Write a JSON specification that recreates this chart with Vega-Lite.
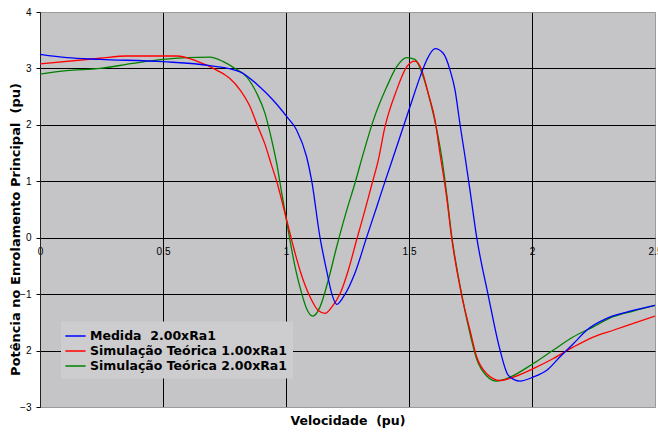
{
  "$schema": "https://vega.github.io/schema/vega-lite/v6.json",
  "autosize": {"type": "none"},
  "padding": {"left": 40, "top": 12, "right": 3, "bottom": 26},
  "width": 615,
  "height": 395,
  "background": "white",
  "config": {
    "view": {"fill": "#c5c5c7", "stroke": "#9a9a9a", "strokeWidth": 1}
  },
  "data": {
    "values": [
      {"s": "Simulação Teórica 2.00xRa1", "x": 0, "y": 2.9},
      {"s": "Simulação Teórica 2.00xRa1", "x": 0.108, "y": 2.96},
      {"s": "Simulação Teórica 2.00xRa1", "x": 0.244, "y": 3.0},
      {"s": "Simulação Teórica 2.00xRa1", "x": 0.378, "y": 3.09},
      {"s": "Simulação Teórica 2.00xRa1", "x": 0.5, "y": 3.16},
      {"s": "Simulação Teórica 2.00xRa1", "x": 0.596, "y": 3.19},
      {"s": "Simulação Teórica 2.00xRa1", "x": 0.691, "y": 3.2},
      {"s": "Simulação Teórica 2.00xRa1", "x": 0.745, "y": 3.12},
      {"s": "Simulação Teórica 2.00xRa1", "x": 0.793, "y": 3.0},
      {"s": "Simulação Teórica 2.00xRa1", "x": 0.84, "y": 2.85},
      {"s": "Simulação Teórica 2.00xRa1", "x": 0.881, "y": 2.56},
      {"s": "Simulação Teórica 2.00xRa1", "x": 0.915, "y": 2.2},
      {"s": "Simulação Teórica 2.00xRa1", "x": 0.942, "y": 1.73},
      {"s": "Simulação Teórica 2.00xRa1", "x": 0.962, "y": 1.32},
      {"s": "Simulação Teórica 2.00xRa1", "x": 0.983, "y": 0.78},
      {"s": "Simulação Teórica 2.00xRa1", "x": 1.009, "y": 0.13},
      {"s": "Simulação Teórica 2.00xRa1", "x": 1.037, "y": -0.52},
      {"s": "Simulação Teórica 2.00xRa1", "x": 1.064, "y": -0.99},
      {"s": "Simulação Teórica 2.00xRa1", "x": 1.084, "y": -1.26},
      {"s": "Simulação Teórica 2.00xRa1", "x": 1.109, "y": -1.39},
      {"s": "Simulação Teórica 2.00xRa1", "x": 1.138, "y": -1.23},
      {"s": "Simulação Teórica 2.00xRa1", "x": 1.172, "y": -0.75},
      {"s": "Simulação Teórica 2.00xRa1", "x": 1.206, "y": -0.16},
      {"s": "Simulação Teórica 2.00xRa1", "x": 1.247, "y": 0.49},
      {"s": "Simulação Teórica 2.00xRa1", "x": 1.28, "y": 0.96},
      {"s": "Simulação Teórica 2.00xRa1", "x": 1.314, "y": 1.49},
      {"s": "Simulação Teórica 2.00xRa1", "x": 1.355, "y": 2.08},
      {"s": "Simulação Teórica 2.00xRa1", "x": 1.409, "y": 2.67},
      {"s": "Simulação Teórica 2.00xRa1", "x": 1.45, "y": 3.03},
      {"s": "Simulação Teórica 2.00xRa1", "x": 1.491, "y": 3.19},
      {"s": "Simulação Teórica 2.00xRa1", "x": 1.524, "y": 3.16},
      {"s": "Simulação Teórica 2.00xRa1", "x": 1.558, "y": 2.85},
      {"s": "Simulação Teórica 2.00xRa1", "x": 1.585, "y": 2.44},
      {"s": "Simulação Teórica 2.00xRa1", "x": 1.613, "y": 1.91},
      {"s": "Simulação Teórica 2.00xRa1", "x": 1.633, "y": 1.43},
      {"s": "Simulação Teórica 2.00xRa1", "x": 1.653, "y": 0.78},
      {"s": "Simulação Teórica 2.00xRa1", "x": 1.673, "y": 0.05},
      {"s": "Simulação Teórica 2.00xRa1", "x": 1.714, "y": -1.0},
      {"s": "Simulação Teórica 2.00xRa1", "x": 1.748, "y": -1.7},
      {"s": "Simulação Teórica 2.00xRa1", "x": 1.775, "y": -2.15},
      {"s": "Simulação Teórica 2.00xRa1", "x": 1.816, "y": -2.45},
      {"s": "Simulação Teórica 2.00xRa1", "x": 1.856, "y": -2.54},
      {"s": "Simulação Teórica 2.00xRa1", "x": 1.911, "y": -2.47},
      {"s": "Simulação Teórica 2.00xRa1", "x": 2.005, "y": -2.23},
      {"s": "Simulação Teórica 2.00xRa1", "x": 2.087, "y": -1.99},
      {"s": "Simulação Teórica 2.00xRa1", "x": 2.167, "y": -1.76},
      {"s": "Simulação Teórica 2.00xRa1", "x": 2.249, "y": -1.58},
      {"s": "Simulação Teórica 2.00xRa1", "x": 2.33, "y": -1.4},
      {"s": "Simulação Teórica 2.00xRa1", "x": 2.412, "y": -1.3},
      {"s": "Simulação Teórica 2.00xRa1", "x": 2.5, "y": -1.2},

      {"s": "Simulação Teórica 1.00xRa1", "x": 0, "y": 3.08},
      {"s": "Simulação Teórica 1.00xRa1", "x": 0.244, "y": 3.18},
      {"s": "Simulação Teórica 1.00xRa1", "x": 0.352, "y": 3.22},
      {"s": "Simulação Teórica 1.00xRa1", "x": 0.5, "y": 3.22},
      {"s": "Simulação Teórica 1.00xRa1", "x": 0.556, "y": 3.22},
      {"s": "Simulação Teórica 1.00xRa1", "x": 0.637, "y": 3.13},
      {"s": "Simulação Teórica 1.00xRa1", "x": 0.718, "y": 2.97},
      {"s": "Simulação Teórica 1.00xRa1", "x": 0.772, "y": 2.82},
      {"s": "Simulação Teórica 1.00xRa1", "x": 0.813, "y": 2.62},
      {"s": "Simulação Teórica 1.00xRa1", "x": 0.854, "y": 2.32},
      {"s": "Simulação Teórica 1.00xRa1", "x": 0.881, "y": 2.02},
      {"s": "Simulação Teórica 1.00xRa1", "x": 0.915, "y": 1.65},
      {"s": "Simulação Teórica 1.00xRa1", "x": 0.94, "y": 1.3},
      {"s": "Simulação Teórica 1.00xRa1", "x": 0.962, "y": 1.0},
      {"s": "Simulação Teórica 1.00xRa1", "x": 1.003, "y": 0.31},
      {"s": "Simulação Teórica 1.00xRa1", "x": 1.03, "y": -0.16},
      {"s": "Simulação Teórica 1.00xRa1", "x": 1.057, "y": -0.58},
      {"s": "Simulação Teórica 1.00xRa1", "x": 1.098, "y": -1.05},
      {"s": "Simulação Teórica 1.00xRa1", "x": 1.131, "y": -1.29},
      {"s": "Simulação Teórica 1.00xRa1", "x": 1.159, "y": -1.34},
      {"s": "Simulação Teórica 1.00xRa1", "x": 1.186, "y": -1.23},
      {"s": "Simulação Teórica 1.00xRa1", "x": 1.22, "y": -0.99},
      {"s": "Simulação Teórica 1.00xRa1", "x": 1.253, "y": -0.58},
      {"s": "Simulação Teórica 1.00xRa1", "x": 1.287, "y": -0.04},
      {"s": "Simulação Teórica 1.00xRa1", "x": 1.321, "y": 0.49},
      {"s": "Simulação Teórica 1.00xRa1", "x": 1.348, "y": 0.93},
      {"s": "Simulação Teórica 1.00xRa1", "x": 1.375, "y": 1.37},
      {"s": "Simulação Teórica 1.00xRa1", "x": 1.402, "y": 1.96},
      {"s": "Simulação Teórica 1.00xRa1", "x": 1.45, "y": 2.62},
      {"s": "Simulação Teórica 1.00xRa1", "x": 1.491, "y": 3.03},
      {"s": "Simulação Teórica 1.00xRa1", "x": 1.524, "y": 3.13},
      {"s": "Simulação Teórica 1.00xRa1", "x": 1.552, "y": 2.97},
      {"s": "Simulação Teórica 1.00xRa1", "x": 1.578, "y": 2.56},
      {"s": "Simulação Teórica 1.00xRa1", "x": 1.606, "y": 2.08},
      {"s": "Simulação Teórica 1.00xRa1", "x": 1.626, "y": 1.49},
      {"s": "Simulação Teórica 1.00xRa1", "x": 1.653, "y": 0.72},
      {"s": "Simulação Teórica 1.00xRa1", "x": 1.673, "y": 0.01},
      {"s": "Simulação Teórica 1.00xRa1", "x": 1.714, "y": -1.02},
      {"s": "Simulação Teórica 1.00xRa1", "x": 1.748, "y": -1.64},
      {"s": "Simulação Teórica 1.00xRa1", "x": 1.775, "y": -2.11},
      {"s": "Simulação Teórica 1.00xRa1", "x": 1.816, "y": -2.41},
      {"s": "Simulação Teórica 1.00xRa1", "x": 1.87, "y": -2.53},
      {"s": "Simulação Teórica 1.00xRa1", "x": 1.924, "y": -2.47},
      {"s": "Simulação Teórica 1.00xRa1", "x": 2.005, "y": -2.32},
      {"s": "Simulação Teórica 1.00xRa1", "x": 2.087, "y": -2.14},
      {"s": "Simulação Teórica 1.00xRa1", "x": 2.167, "y": -1.94},
      {"s": "Simulação Teórica 1.00xRa1", "x": 2.249, "y": -1.76},
      {"s": "Simulação Teórica 1.00xRa1", "x": 2.33, "y": -1.64},
      {"s": "Simulação Teórica 1.00xRa1", "x": 2.412, "y": -1.52},
      {"s": "Simulação Teórica 1.00xRa1", "x": 2.5, "y": -1.39},

      {"s": "Medida \u00a02.00xRa1", "x": 0, "y": 3.25},
      {"s": "Medida \u00a02.00xRa1", "x": 0.11, "y": 3.19},
      {"s": "Medida \u00a02.00xRa1", "x": 0.244, "y": 3.16},
      {"s": "Medida \u00a02.00xRa1", "x": 0.5, "y": 3.12},
      {"s": "Medida \u00a02.00xRa1", "x": 0.691, "y": 3.05},
      {"s": "Medida \u00a02.00xRa1", "x": 0.813, "y": 2.94},
      {"s": "Medida \u00a02.00xRa1", "x": 0.894, "y": 2.67},
      {"s": "Medida \u00a02.00xRa1", "x": 0.947, "y": 2.44},
      {"s": "Medida \u00a02.00xRa1", "x": 1.004, "y": 2.14},
      {"s": "Medida \u00a02.00xRa1", "x": 1.043, "y": 1.91},
      {"s": "Medida \u00a02.00xRa1", "x": 1.084, "y": 1.43},
      {"s": "Medida \u00a02.00xRa1", "x": 1.104, "y": 1.02},
      {"s": "Medida \u00a02.00xRa1", "x": 1.138, "y": 0.01},
      {"s": "Medida \u00a02.00xRa1", "x": 1.165, "y": -0.58},
      {"s": "Medida \u00a02.00xRa1", "x": 1.186, "y": -0.99},
      {"s": "Medida \u00a02.00xRa1", "x": 1.206, "y": -1.18},
      {"s": "Medida \u00a02.00xRa1", "x": 1.233, "y": -1.05},
      {"s": "Medida \u00a02.00xRa1", "x": 1.28, "y": -0.63},
      {"s": "Medida \u00a02.00xRa1", "x": 1.328, "y": 0.01},
      {"s": "Medida \u00a02.00xRa1", "x": 1.369, "y": 0.55},
      {"s": "Medida \u00a02.00xRa1", "x": 1.402, "y": 0.99},
      {"s": "Medida \u00a02.00xRa1", "x": 1.436, "y": 1.43},
      {"s": "Medida \u00a02.00xRa1", "x": 1.504, "y": 2.32},
      {"s": "Medida \u00a02.00xRa1", "x": 1.545, "y": 2.85},
      {"s": "Medida \u00a02.00xRa1", "x": 1.572, "y": 3.15},
      {"s": "Medida \u00a02.00xRa1", "x": 1.606, "y": 3.35},
      {"s": "Medida \u00a02.00xRa1", "x": 1.639, "y": 3.27},
      {"s": "Medida \u00a02.00xRa1", "x": 1.667, "y": 2.97},
      {"s": "Medida \u00a02.00xRa1", "x": 1.687, "y": 2.62},
      {"s": "Medida \u00a02.00xRa1", "x": 1.707, "y": 2.02},
      {"s": "Medida \u00a02.00xRa1", "x": 1.728, "y": 1.43},
      {"s": "Medida \u00a02.00xRa1", "x": 1.748, "y": 0.84},
      {"s": "Medida \u00a02.00xRa1", "x": 1.775, "y": 0.01},
      {"s": "Medida \u00a02.00xRa1", "x": 1.822, "y": -1.02},
      {"s": "Medida \u00a02.00xRa1", "x": 1.87, "y": -1.99},
      {"s": "Medida \u00a02.00xRa1", "x": 1.904, "y": -2.44},
      {"s": "Medida \u00a02.00xRa1", "x": 1.951, "y": -2.54},
      {"s": "Medida \u00a02.00xRa1", "x": 2.005, "y": -2.47},
      {"s": "Medida \u00a02.00xRa1", "x": 2.06, "y": -2.35},
      {"s": "Medida \u00a02.00xRa1", "x": 2.114, "y": -2.11},
      {"s": "Medida \u00a02.00xRa1", "x": 2.168, "y": -1.88},
      {"s": "Medida \u00a02.00xRa1", "x": 2.222, "y": -1.64},
      {"s": "Medida \u00a02.00xRa1", "x": 2.304, "y": -1.43},
      {"s": "Medida \u00a02.00xRa1", "x": 2.385, "y": -1.32},
      {"s": "Medida \u00a02.00xRa1", "x": 2.5, "y": -1.2}
    ]
  },
  "mark": {"type": "line", "interpolate": "monotone", "strokeWidth": 1.3, "clip": true},
  "encoding": {
    "x": {
      "field": "x",
      "type": "quantitative",
      "scale": {"domain": [0, 2.5], "nice": false, "zero": false},
      "axis": {
        "values": [0, 0.5, 1, 1.5, 2, 2.5],
        "offset": -169.5,
        "labelExpr": "format(datum.value, '~g')",
        "ticks": false,
        "domain": false,
        "labelPadding": 9,
        "labelFlush": false,
        "labelOverlap": false,
        "labelFont": "Liberation Sans",
        "labelFontSize": 10,
        "labelColor": "black",
        "grid": true,
        "gridColor": {"condition": {"test": "datum.value == 2.5", "value": "#9a9a9a"}, "value": "black"},
        "gridWidth": 1,
        "gridOpacity": 1,
        "title": "Velocidade \u00a0(pu)",
        "titleFont": "DejaVu Sans",
        "titleFontSize": 12.5,
        "titleFontWeight": "bold",
        "titleColor": "black",
        "titleY": 186.5,
        "titleBaseline": "alphabetic"
      }
    },
    "y": {
      "field": "y",
      "type": "quantitative",
      "scale": {"domain": [-3, 4], "nice": false, "zero": false},
      "axis": {
        "values": [-3, -2, -1, 0, 1, 2, 3, 4],
        "labelExpr": "datum.value == -2 ? '2' : format(datum.value, 'd')",
        "labelFont": "Liberation Sans",
        "labelFontSize": 10,
        "labelColor": "black",
        "labelPadding": 5,
        "labelOverlap": false,
        "tickColor": "black",
        "tickSize": 4,
        "domainColor": "#222222",
        "grid": true,
        "gridColor": {"condition": {"test": "datum.value == 4 || datum.value == -3", "value": "#9a9a9a"}, "value": "black"},
        "gridWidth": 1,
        "gridOpacity": 1,
        "title": "Potência no Enrolamento Principal \u00a0(pu)",
        "titleFont": "DejaVu Sans",
        "titleFontSize": 13,
        "titleFontWeight": "bold",
        "titleColor": "black",
        "titleAngle": -90,
        "titleX": -21,
        "titleY": 217,
        "titleAlign": "center",
        "titleBaseline": "alphabetic"
      }
    },
    "color": {
      "field": "s",
      "type": "nominal",
      "scale": {
        "domain": ["Medida \u00a02.00xRa1", "Simulação Teórica 1.00xRa1", "Simulação Teórica 2.00xRa1"],
        "range": ["#0000ff", "#ff0000", "#008000"]
      },
      "legend": {
        "orient": "none",
        "legendX": 21,
        "legendY": 309.5,
        "title": null,
        "padding": 6,
        "fillColor": "#cdcdcf",
        "symbolType": "M-1.35,0H1.35",
        "symbolSize": 225,
        "symbolStrokeWidth": 1.5,
        "labelOffset": 6,
        "labelFont": "DejaVu Sans",
        "labelFontSize": 12.5,
        "labelFontWeight": "bold",
        "labelColor": "black",
        "labelLimit": 0,
        "rowPadding": 0
      }
    }
  }
}
